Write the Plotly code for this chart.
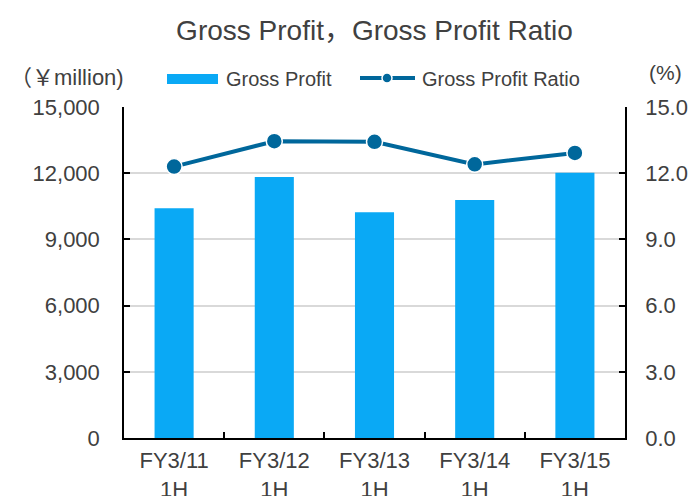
import plotly.graph_objects as go

categories = ["FY3/11<br>1H", "FY3/12<br>1H", "FY3/13<br>1H", "FY3/14<br>1H", "FY3/15<br>1H"]
gross_profit = [10410, 11830, 10230, 10780, 12020]
gross_profit_ratio = [12.3, 13.45, 13.42, 12.4, 12.92]
series_names = ["Gross Profit", "Gross Profit Ratio"]
title_text = "Gross Profit，Gross Profit Ratio"
left_unit = "（￥million)"
right_unit = "(%)"

BAR_C = "#0AA9F5"
LINE_C = "#00679B"
TXT = "#404040"
FONT = "Liberation Sans, Arial, sans-serif"
CJK = FONT + ", Noto Sans CJK JP"

OFF = 8  # page body margin
W, H = 697, 496
ML, MR, MT, MB = 124 - OFF, 697 - 625 + OFF, 107 - OFF, 496 - 438 + OFF
PW, PH = W - ML - MR, H - MT - MB

def px(x):
    return (x - OFF - ML) / PW

def py(y):
    return (H - MB - (y - OFF)) / PH

fig = go.Figure()
fig.add_trace(go.Bar(x=categories, y=gross_profit, name=series_names[0],
                     marker=dict(color=BAR_C, line=dict(width=0)),
                     showlegend=False, yaxis="y"))
fig.add_trace(go.Scatter(x=categories, y=gross_profit_ratio, name=series_names[1],
                         mode="lines+markers",
                         line=dict(color=LINE_C, width=4),
                         marker=dict(color=LINE_C, size=16, line=dict(color="white", width=1.5)),
                         showlegend=False, yaxis="y2"))

axis_common = dict(showline=True, linecolor="black", linewidth=1.5, automargin=False,
                   ticks="inside", ticklen=6, tickcolor="black", tickwidth=1.5,
                   tickfont=dict(family=FONT, size=22, color=TXT))

fig.update_layout(
    width=W, height=H,
    margin=dict(l=ML, r=MR, t=MT, b=MB, pad=0, autoexpand=False),
    paper_bgcolor="white", plot_bgcolor="white",
    bargap=0.61,
    title=dict(text=title_text, x=0.5, xref="paper", y=1 - (30 - OFF) / H, yref="container",
               xanchor="center", yanchor="middle", automargin=False,
               font=dict(family=CJK, size=28, color=TXT)),
    xaxis=dict(**axis_common, tickson="boundaries", showgrid=False, zeroline=False,
               ticklabelstandoff=2),
    yaxis=dict(**axis_common, range=[0, 15000], dtick=3000, tick0=0, tickformat=",",
               showgrid=True, gridcolor="#D9D9D9", gridwidth=1.5, zeroline=False,
               ticklabelstandoff=18),
    yaxis2=dict(**axis_common, overlaying="y", side="right", range=[0, 15], dtick=3, tick0=0,
                tickformat=".1f", showgrid=False, zeroline=False, ticklabelstandoff=14),
)

shapes = [
    dict(type="rect", xref="paper", yref="paper", x0=px(167), x1=px(218), y0=py(84), y1=py(74),
         fillcolor=BAR_C, line=dict(width=0)),
    dict(type="line", xref="paper", yref="paper", x0=px(360), x1=px(415), y0=py(78), y1=py(78),
         line=dict(color=LINE_C, width=4)),
    dict(type="circle", xref="paper", yref="paper", x0=px(382), x1=px(392), y0=py(83), y1=py(73),
         fillcolor=LINE_C, line=dict(color="white", width=1.5)),
]
fig.update_layout(shapes=shapes)

annots = [
    dict(text=series_names[0], x=px(224), y=py(79), xanchor="left", yanchor="middle", size=20),
    dict(text=series_names[1], x=px(420), y=py(79), xanchor="left", yanchor="middle", size=20),
    dict(text=left_unit, x=px(67), y=py(77), xanchor="center", yanchor="middle", size=22),
    dict(text=right_unit, x=px(665), y=py(73), xanchor="center", yanchor="middle", size=21),
]
for a in annots:
    s = a.pop("size")
    a.update(xref="paper", yref="paper", showarrow=False,
             font=dict(family=CJK, size=s, color=TXT))
fig.update_layout(annotations=annots)

fig.write_html("out.html", post_script="document.body.style.overflow='hidden';")
